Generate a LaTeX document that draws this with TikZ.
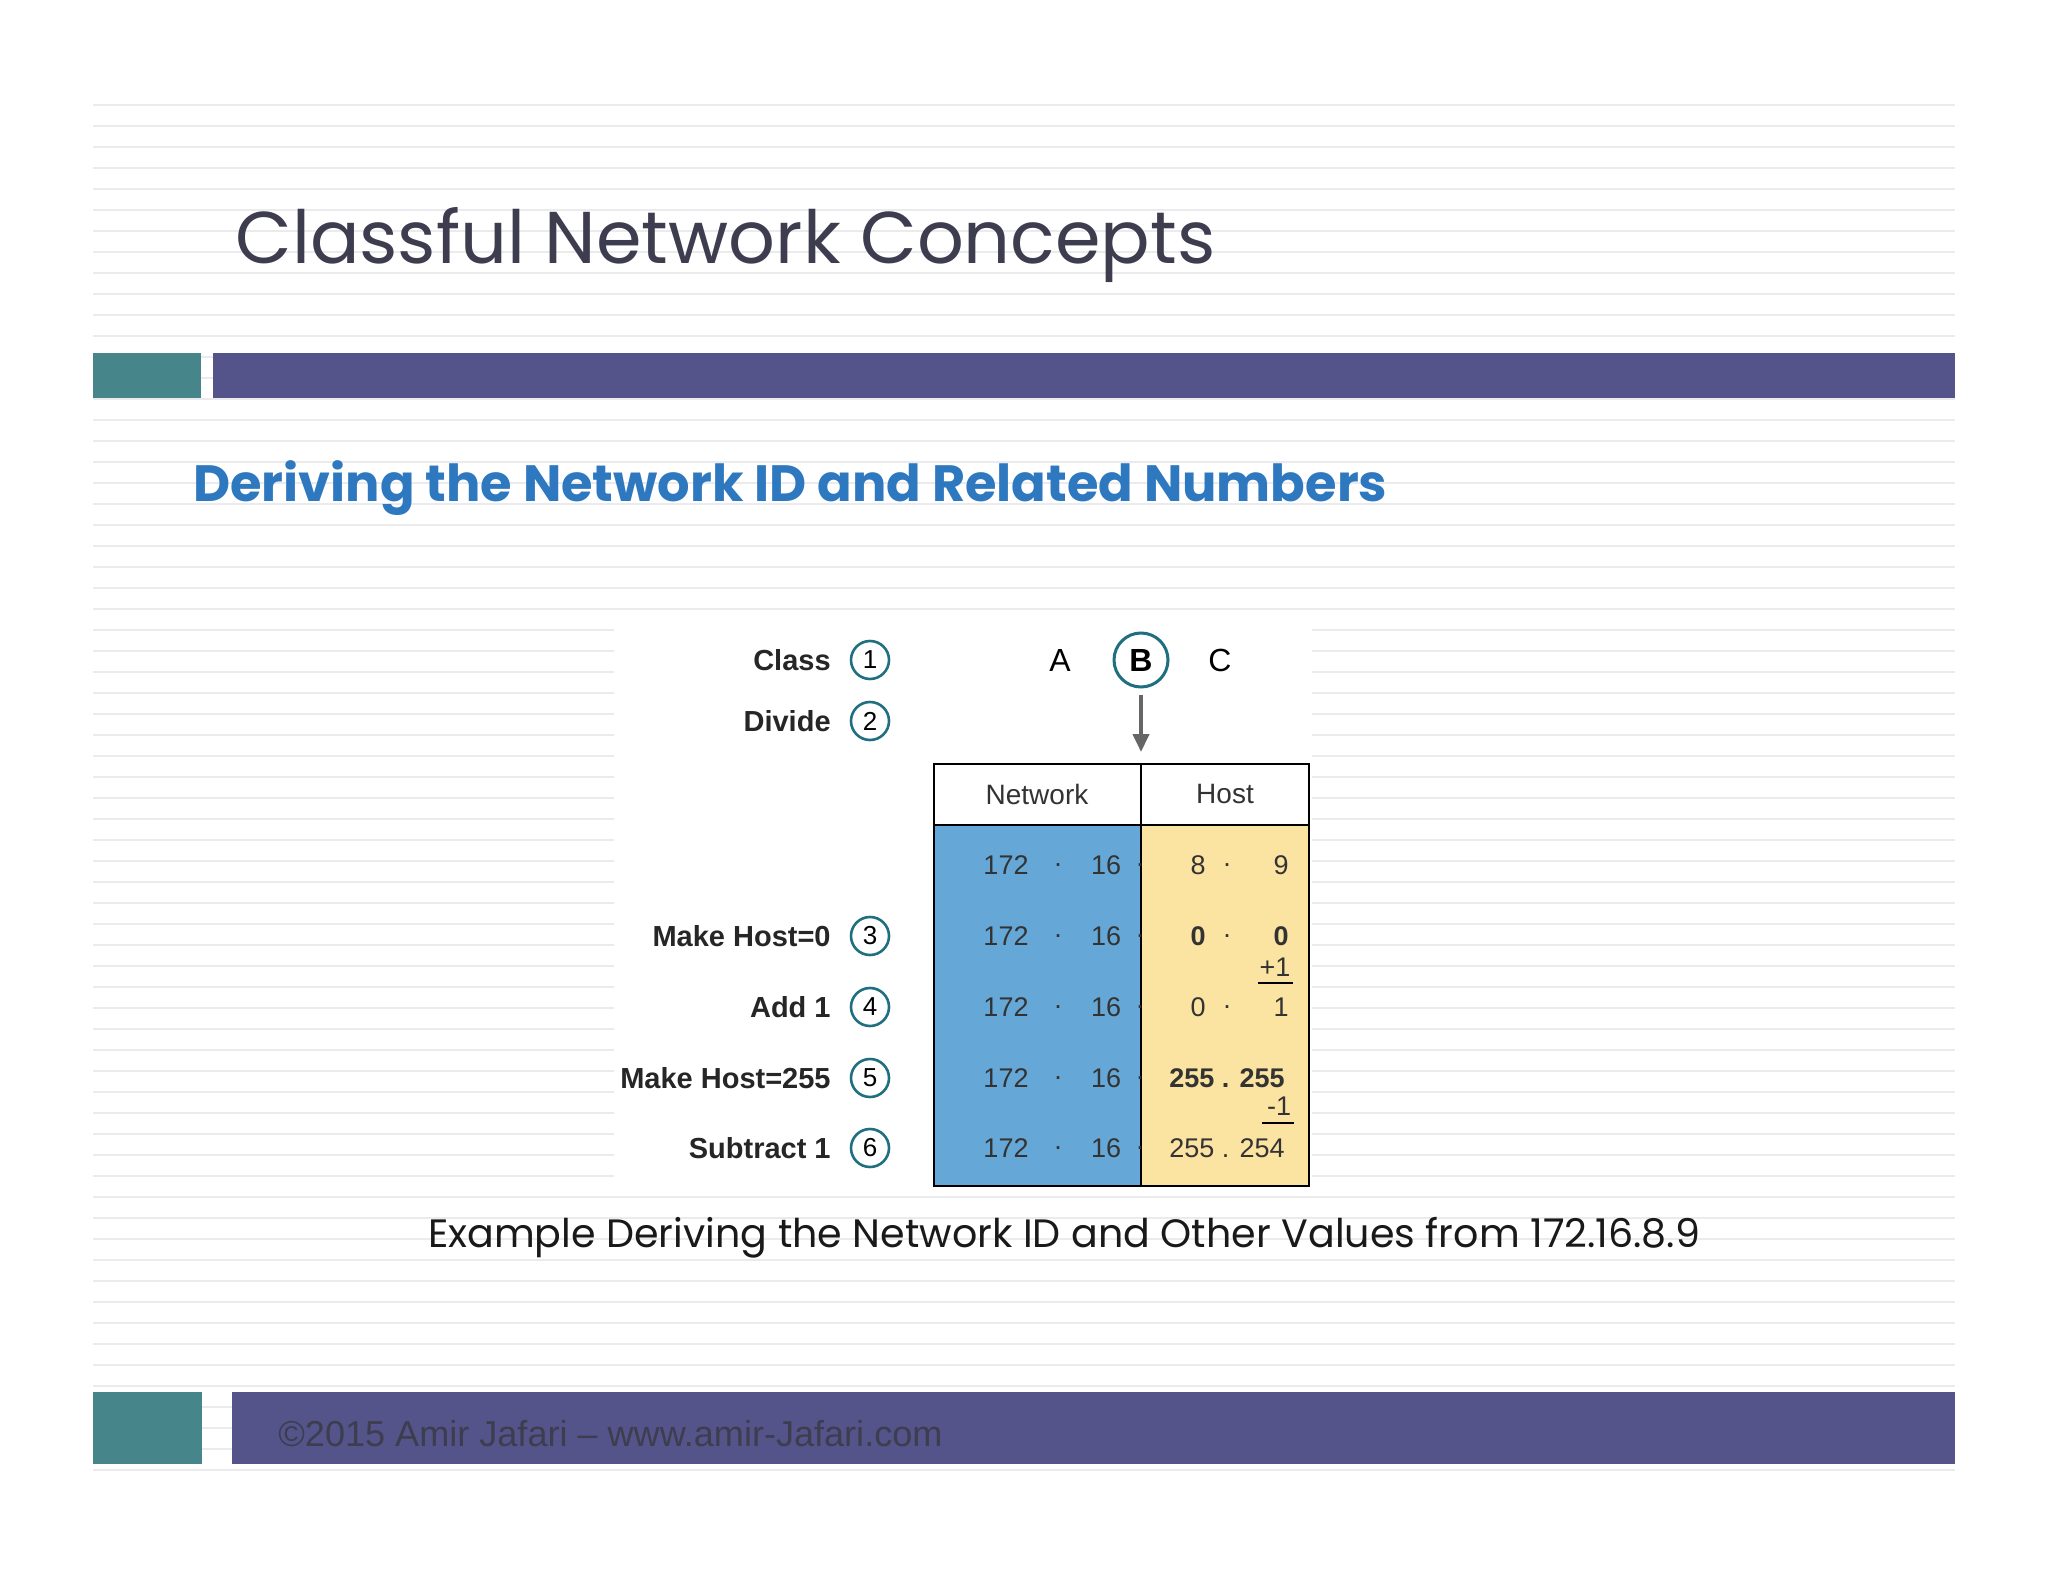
\documentclass[tikz,border=0pt]{standalone}
\usepackage{fontspec}
\setmainfont{Poppins}
\newfontfamily\arialf{Liberation Sans}
\usetikzlibrary{arrows.meta}
\definecolor{teal1}{HTML}{468589}
\definecolor{purp}{HTML}{54548A}
\definecolor{titlec}{HTML}{3D3D4F}
\definecolor{subc}{HTML}{2E78C0}
\definecolor{netc}{HTML}{65A7D6}
\definecolor{hostc}{HTML}{FBE3A2}
\definecolor{circc}{HTML}{1F6F80}
\definecolor{stripe}{HTML}{EBEBEE}
\tikzset{
 lbl/.style={anchor=east,font=\arialf\bfseries\fontsize{14.5}{16}\selectfont,text=black!85},
 num/.style={circle,draw=circc,line width=1.3pt,minimum size=19pt,inner sep=0pt,font=\arialf\fontsize{13}{14}\selectfont},
 val/.style={font=\arialf\fontsize{13.5}{15}\selectfont,text=black!80,inner sep=0pt},
 bval/.style={val,font=\arialf\bfseries\fontsize{13.5}{15}\selectfont},
}
\begin{document}
\begin{tikzpicture}[x=0.5pt,y=-0.5pt]
\useasboundingbox (0,0) rectangle (2048,1582);
\fill[white] (0,0) rectangle (2048,1582);
\foreach \yy in {105,126,...,1490} \draw[stripe,line width=1.2pt] (93,\yy) -- (1955,\yy);
% title
\node[anchor=west,text=titlec,inner sep=0pt] (title) at (235,245) {\resizebox{490pt}{!}{Classful Network Concepts}};
\fill[teal1] (93,353) rectangle (201,398);
\fill[purp] (213,353) rectangle (1955,398);
\node[anchor=west,text=subc,inner sep=0pt] (sub) at (193,488) {\resizebox{597pt}{!}{\bfseries Deriving the Network ID and Related Numbers}};
% diagram background
\fill[white] (614,627) rectangle (1312,1188);
% labels
\foreach \t/\n/\yy in {Class/1/660,Divide/2/721,Make Host=0/3/936,Add 1/4/1007,Make Host=255/5/1078,Subtract 1/6/1148}{
 \node[num] (c\n) at (870,\yy) {\n};
 \node[lbl] (l\n) at ([xshift=-6pt]c\n.west) {\t};
}
\node[font=\arialf\fontsize{16}{18}\selectfont] (A) at (1060,660) {A};
\node[circle,draw=circc,line width=1.5pt,minimum size=27pt,inner sep=0pt,font=\arialf\bfseries\fontsize{16}{18}\selectfont] (B) at (1141,660) {B};
\node[font=\arialf\fontsize{16}{18}\selectfont] (C) at (1220,660) {C};
% table
\fill[netc] (934,825) rectangle (1141,1186);
\fill[hostc] (1141,825) rectangle (1309,1186);
\draw[line width=1.3pt] (934,764) rectangle (1309,1186);
\draw[line width=1.3pt] (934,825) -- (1309,825);
\draw[line width=1.3pt] (1141,764) coordinate (dtop) -- (1141,1186);
\coordinate (atip) at (1141,752);
\draw[gray!80!black,line width=2pt,-{Triangle[length=9pt,width=8pt]}] (B.south) ++(0,6) -- (atip);
\node[val,font=\arialf\fontsize{14}{16}\selectfont] (hn) at (1037,794) {Network};
\node[val,font=\arialf\fontsize{14}{16}\selectfont] (hh) at (1225,794) {Host};
\foreach \yy/\a/\b/\bf in {865/8/9/0,936/0/0/1,1007/0/1/0}{
 \node[val] at (1006,\yy) {172}; \node[val] at (1058,\yy) {.}; \node[val] at (1106,\yy) {16};
 \node[val] at (1140,\yy) {.};
 \ifnum\bf=1
 \node[bval] at (1198,\yy) {\a}; \node[val] at (1227,\yy) {.}; \node[bval] at (1281,\yy) {\b};
 \else
 \node[val] at (1198,\yy) {\a}; \node[val] at (1227,\yy) {.}; \node[val] at (1281,\yy) {\b};
 \fi
}
\foreach \yy in {1078,1148}{
 \node[val] at (1006,\yy) {172}; \node[val] at (1058,\yy) {.}; \node[val] at (1106,\yy) {16};
 \node[val] at (1140,\yy) {.};
}
\node[bval] at (1227,1078) {255 . 255};
\node[val] at (1227,1148) {255 . 254};
\node[val] at (1275,967) {+1};
\draw[line width=1.2pt] (1258,983) -- (1293,983);
\node[val] at (1279,1106) {-1};
\draw[line width=1.2pt] (1262,1123) -- (1294,1123);
% caption
\node[inner sep=0pt,text=black!90] (cap) at (1064,1238) {\resizebox{636pt}{!}{Example Deriving the Network ID and Other Values from 172.16.8.9}};
% footer
\fill[teal1] (93,1392) rectangle (202,1464);
\fill[purp] (232,1392) rectangle (1955,1464);
\node[anchor=west,inner sep=0pt,text=titlec] (foot) at (278,1434) {\resizebox{332pt}{!}{\arialf ©2015 Amir Jafari – www.amir-Jafari.com}};
\end{tikzpicture}
\end{document}
